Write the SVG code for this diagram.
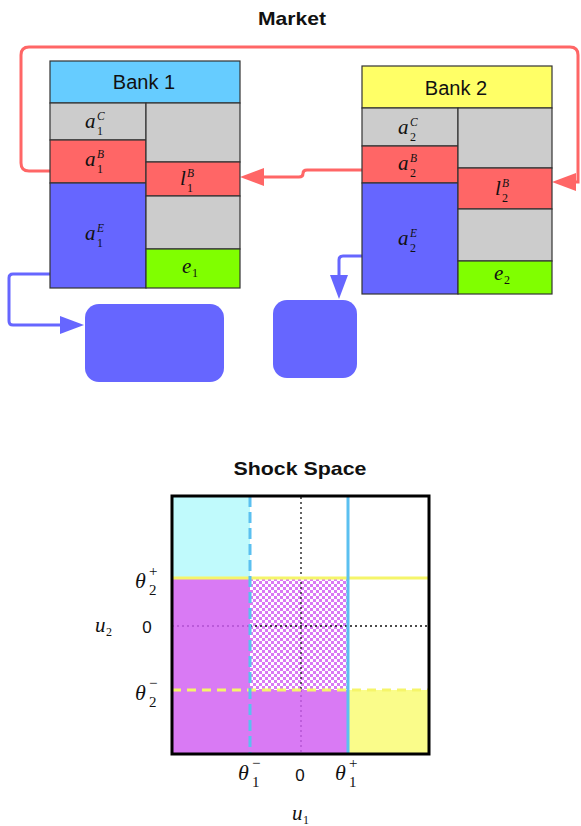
<svg xmlns="http://www.w3.org/2000/svg" width="581" height="826" viewBox="0 0 581 826">
<style>
.title{font-family:"Liberation Sans",Arial,sans-serif;font-weight:bold;font-size:19px;fill:#111;text-anchor:middle}
.hdr{font-family:"Liberation Sans",Arial,sans-serif;font-size:20px;fill:#111;text-anchor:middle}
.m{font-family:"Liberation Serif","Times New Roman",serif;font-style:italic;font-size:21px;fill:#111}
.s{font-size:11.5px}
.d{font-size:12px;font-style:normal}
.th{font-family:"Liberation Serif","Times New Roman",serif;font-style:italic;font-size:22px;fill:#111}
.ts{font-family:"Liberation Serif","Times New Roman",serif;font-style:normal;font-size:15px;fill:#111}
.z{font-family:"Liberation Sans",Arial,sans-serif;font-size:17px;fill:#111;text-anchor:middle}
.cell{stroke:#333;stroke-width:1.2}
.gray{fill:#cccccc}.red{fill:#ff6666}.blue{fill:#6666ff}.green{fill:#80ff00}
.rc{fill:none;stroke:#f66;stroke-width:3}
.bc{fill:none;stroke:#6666ff;stroke-width:3}
</style>
<defs>
<marker id="ar" markerUnits="userSpaceOnUse" markerWidth="26" markerHeight="22" refX="0" refY="10" orient="auto" overflow="visible"><path d="M0,1 L24,10 L0,19 z" fill="#f66"/></marker>
<marker id="ab" markerUnits="userSpaceOnUse" markerWidth="26" markerHeight="22" refX="0" refY="10" orient="auto" overflow="visible"><path d="M0,1 L24,10 L0,19 z" fill="#6666ff"/></marker>
<pattern id="chk" patternUnits="userSpaceOnUse" x="250" y="578" width="6" height="6">
<rect width="6" height="6" fill="#ffffff"/>
<rect width="3" height="3" fill="#d97af4"/>
<rect x="3" y="3" width="3" height="3" fill="#d97af4"/>
</pattern>
</defs>

<text class="title" x="292" y="25" textLength="68" lengthAdjust="spacingAndGlyphs">Market</text>

<g id="connectors">
<path class="rc" d="M50,171 H29 Q21,171 21,163 V55 Q21,47 29,47 H570 Q578,47 578,55 V182 H576" marker-end="url(#ar)"/>
<path class="rc" d="M362,170 H307 Q303,170 303,173.5 Q303,177 299,177 H264" marker-end="url(#ar)"/>
<path class="bc" d="M50,274 H13 Q9,274 9,278 V321 Q9,325 13,325 H60" marker-end="url(#ab)"/>
<path class="bc" d="M362,256 H343 Q339,256 339,260 V275" marker-end="url(#ab)"/>
</g>

<g id="bank1">
<rect class="cell" x="50" y="61" width="190" height="42" fill="#66ccff"/>
<text class="hdr" x="144" y="89">Bank 1</text>
<rect class="cell gray" x="50" y="103" width="96" height="37"/>
<rect class="cell red" x="50" y="140" width="96" height="43"/>
<rect class="cell blue" x="50" y="183" width="96" height="105"/>
<rect class="cell gray" x="146" y="103" width="94" height="59"/>
<rect class="cell red" x="146" y="162" width="94" height="34"/>
<rect class="cell gray" x="146" y="196" width="94" height="53"/>
<rect class="cell green" x="146" y="249" width="94" height="39"/>
<text class="m" x="85" y="128">a<tspan class="s" x="97" y="120">C</tspan><tspan class="d" x="97" y="135">1</tspan></text>
<text class="m" x="85" y="166">a<tspan class="s" x="97" y="158">B</tspan><tspan class="d" x="97" y="173">1</tspan></text>
<text class="m" x="85" y="240">a<tspan class="s" x="97" y="232">E</tspan><tspan class="d" x="97" y="247">1</tspan></text>
<text class="m" x="180" y="185">l<tspan class="s" x="187" y="177">B</tspan><tspan class="d" x="187" y="192">1</tspan></text>
<text class="m" x="182" y="273">e<tspan class="d" x="192" y="277">1</tspan></text>
</g>

<g id="bank2">
<rect class="cell" x="362" y="66" width="190" height="42" fill="#ffff66"/>
<text class="hdr" x="456" y="95">Bank 2</text>
<rect class="cell gray" x="362" y="108" width="96" height="38"/>
<rect class="cell red" x="362" y="146" width="96" height="37"/>
<rect class="cell blue" x="362" y="183" width="96" height="111"/>
<rect class="cell gray" x="458" y="108" width="94" height="60"/>
<rect class="cell red" x="458" y="168" width="94" height="41"/>
<rect class="cell gray" x="458" y="209" width="94" height="52"/>
<rect class="cell green" x="458" y="261" width="94" height="33"/>
<text class="m" x="398" y="134">a<tspan class="s" x="410" y="126">C</tspan><tspan class="d" x="410" y="141">2</tspan></text>
<text class="m" x="398" y="170">a<tspan class="s" x="410" y="162">B</tspan><tspan class="d" x="410" y="177">2</tspan></text>
<text class="m" x="398" y="245">a<tspan class="s" x="410" y="237">E</tspan><tspan class="d" x="410" y="252">2</tspan></text>
<text class="m" x="495" y="195">l<tspan class="s" x="502" y="187">B</tspan><tspan class="d" x="502" y="202">2</tspan></text>
<text class="m" x="494" y="280">e<tspan class="d" x="504" y="284">2</tspan></text>
</g>

<g id="box1"><rect x="85" y="304" width="139" height="78" rx="14" fill="#6666ff"/></g>
<g id="box2"><rect x="273" y="300" width="84" height="78" rx="14" fill="#6666ff"/></g>

<text class="title" x="300" y="475" textLength="133" lengthAdjust="spacingAndGlyphs">Shock Space</text>

<g id="shock-space">
<rect x="172" y="496" width="257" height="258" fill="#ffffff"/>
<rect x="172" y="496" width="78" height="82" fill="#c0fafc"/>
<rect x="172" y="578" width="78" height="176" fill="#d97af4"/>
<rect x="250" y="690" width="98" height="64" fill="#d97af4"/>
<rect x="250" y="578" width="98" height="112" fill="url(#chk)"/>
<rect x="348" y="690" width="81" height="64" fill="#fafc8a"/>
<g stroke-width="1.3" stroke-dasharray="2 3">
<line x1="301" y1="497" x2="301" y2="690" stroke="#111"/>
<line x1="250" y1="626" x2="429" y2="626" stroke="#111"/>
<line x1="301" y1="690" x2="301" y2="754" stroke="#b050d0"/>
<line x1="172" y1="626" x2="250" y2="626" stroke="#b050d0"/>
</g>
<line x1="172" y1="578" x2="429" y2="578" stroke="#f5f56a" stroke-width="3"/>
<line x1="172" y1="690" x2="429" y2="690" stroke="#f5f56a" stroke-width="3" stroke-dasharray="9 6"/>
<line x1="250" y1="496" x2="250" y2="754" stroke="#5bc0f0" stroke-width="3" stroke-dasharray="11 5"/>
<line x1="348" y1="496" x2="348" y2="754" stroke="#5bc0f0" stroke-width="3"/>
<rect x="172" y="496" width="257" height="258" fill="none" stroke="#000" stroke-width="3"/>
</g>

<g id="axis-labels">
<text class="th" x="135" y="588">θ<tspan class="ts" x="149" y="576">+</tspan><tspan class="ts" x="149" y="595">2</tspan></text>
<text class="th" x="135" y="700">θ<tspan class="ts" x="149" y="688">−</tspan><tspan class="ts" x="149" y="707">2</tspan></text>
<text class="m" x="95" y="632">u<tspan class="d" x="106" y="636">2</tspan></text>
<text class="z" x="147" y="633">0</text>
<text class="th" x="238" y="780">θ<tspan class="ts" x="252" y="768">−</tspan><tspan class="ts" x="252" y="787">1</tspan></text>
<text class="z" x="300" y="781">0</text>
<text class="th" x="335" y="780">θ<tspan class="ts" x="349" y="768">+</tspan><tspan class="ts" x="349" y="787">1</tspan></text>
<text class="m" x="292" y="820">u<tspan class="d" x="303" y="824">1</tspan></text>
</g>
</svg>
